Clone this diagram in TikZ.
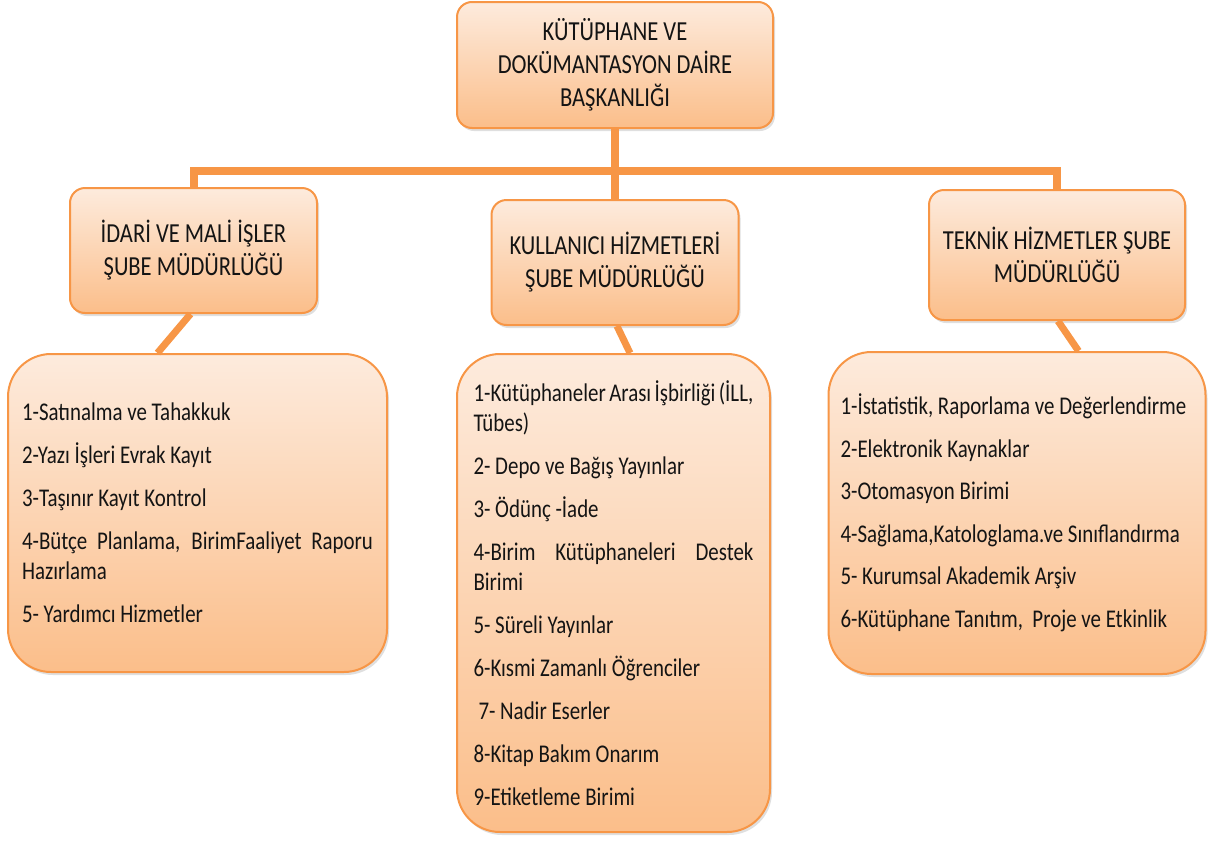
\documentclass[tikz,border=0pt]{standalone}
\usepackage{fontspec}
\setmainfont{Carlito}[FakeStretch=0.82]
\usepackage{xcolor}
\usepackage{tikz}
\usetikzlibrary{positioning, shadows, calc}

\definecolor{boxTop}{HTML}{FDEBDD}
\definecolor{boxBot}{HTML}{FBBE8A}
\definecolor{boxLine}{HTML}{F79646}
\definecolor{txtDark}{HTML}{141414}

\hyphenpenalty=10000
\exhyphenpenalty=10000

\begin{document}
\begin{tikzpicture}[
    x=1pt, y=-1pt,
    orgbox/.style={draw=boxLine, line width=2pt, top color=boxTop, bottom color=boxBot, text=txtDark,
        drop shadow={shadow xshift=2pt, shadow yshift=-3pt, opacity=0.25}},
    deptbox/.style={orgbox, rounded corners=15pt, minimum width=247pt, minimum height=125pt, align=center,
        font=\fontsize{27.5}{33}\selectfont},
    unitbox/.style={orgbox, rounded corners=43pt, align=justify, inner ysep=0pt,
        font=\fontsize{25.5}{30}\selectfont},
    link/.style={draw=boxLine, line width=8pt},
    slant/.style={draw=boxLine, line width=7pt},
]
\useasboundingbox (0,0) rectangle (1208,841);

% Daire Baskanligi
\node[deptbox, minimum width=316pt, minimum height=126pt] (dept) at (615,65)
    {KÜTÜPHANE VE\\DOKÜMANTASYON DAİRE\\BAŞKANLIĞI};

% Sube mudurlukleri
\node[deptbox] (idari) at (193.5,250.5) {İDARİ VE MALİ İŞLER\\ŞUBE MÜDÜRLÜĞÜ};
\node[deptbox] (kull) at (615,262.5) {KULLANICI HİZMETLERİ\\ŞUBE MÜDÜRLÜĞÜ};
\node[deptbox, minimum width=256pt, minimum height=130pt] (tekn) at (1057,255)
    {TEKNİK HİZMETLER ŞUBE\\MÜDÜRLÜĞÜ};

% Birimler
\node[unitbox, text width=351pt, inner xsep=14pt, minimum height=318pt, below=39pt of idari, xshift=4pt] (idariL) {
1-Satınalma ve Tahakkuk\\[13pt]
2-Yazı İşleri Evrak Kayıt\\[13pt]
3-Taşınır Kayıt Kontrol\\[13pt]
4-Bütçe Planlama, BirimFaaliyet Raporu\linebreak Hazırlama\\[13pt]
5- Yardımcı Hizmetler};

\node[unitbox, text width=280pt, inner xsep=16.5pt, minimum height=478pt, below=27pt of kull, xshift=-1.5pt] (kullL) {
1-Kütüphaneler Arası İşbirliği (İLL,\linebreak Tübes)\\[13pt]
2- Depo ve Bağış Yayınlar\\[13pt]
3- Ödünç -İade\\[13pt]
4-Birim Kütüphaneleri Destek\linebreak Birimi\\[13pt]
5- Süreli Yayınlar\\[13pt]
6-Kısmi Zamanlı Öğrenciler\\[13pt]
\hspace*{5pt}7- Nadir Eserler\\[13pt]
8-Kitap Bakım Onarım\\[13pt]
9-Etiketleme Birimi};

\node[unitbox, text width=353pt, inner xsep=12pt, minimum height=322pt, below=30pt of tekn, xshift=-40pt] (teknL) {
1-İstatistik, Raporlama ve Değerlendirme\\[12.5pt]
2-Elektronik Kaynaklar\\[12.5pt]
3-Otomasyon Birimi\\[12.5pt]
4-Sağlama,Katologlama.ve Sınıflandırma\\[12.5pt]
5- Kurumsal Akademik Arşiv\\[12.5pt]
6-Kütüphane Tanıtım,~ Proje ve Etkinlik};

% Baglantilar
\coordinate (bus) at ($(dept.south)!0.6!(kull.north)$);
\draw[link] (dept) -- (kull);
\draw[link] (idari.north) |- (bus) -| (tekn.north);
\draw[slant] ([xshift=-3pt]idari.south) -- ([xshift=-40pt]idariL.north);
\draw[slant] ([xshift=2pt]kull.south) -- ([xshift=16.5pt]kullL.north);
\draw[slant] ([xshift=1pt]tekn.south) -- ([xshift=61.5pt]teknL.north);

\end{tikzpicture}
\end{document}
